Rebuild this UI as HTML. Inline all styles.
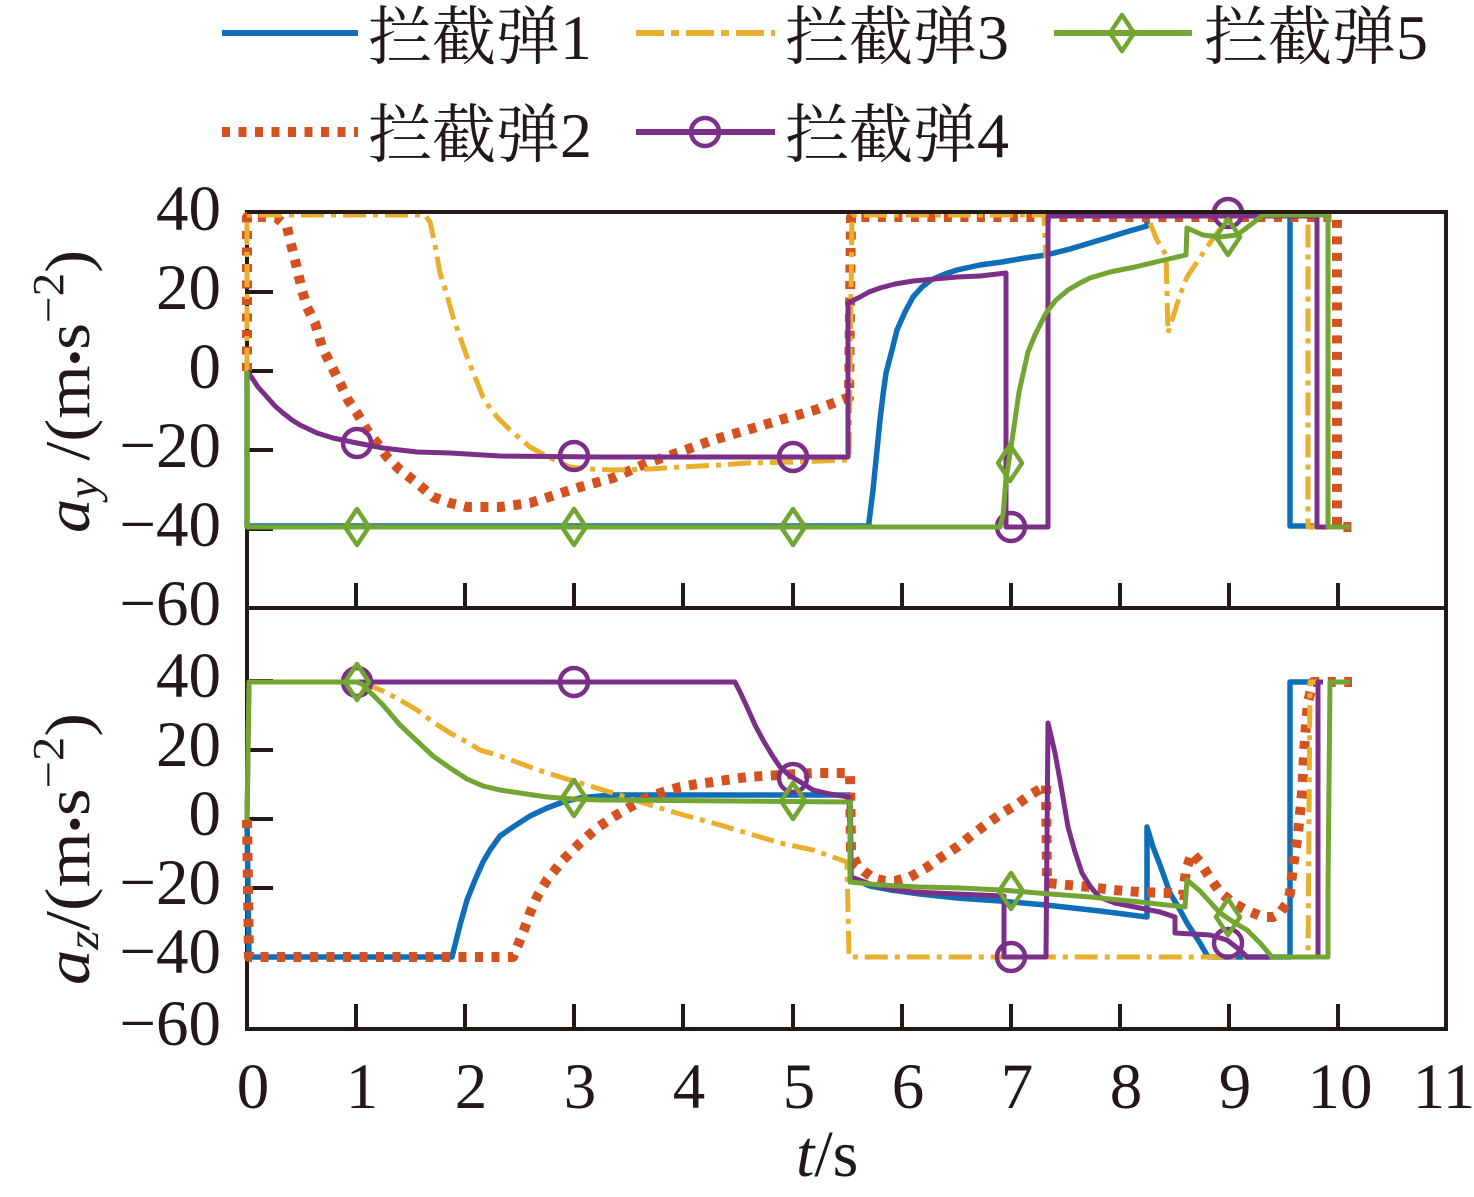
<!DOCTYPE html>
<html>
<head>
<meta charset="utf-8">
<style>
  html, body { margin: 0; padding: 0; background: #ffffff; }
  body { width: 1474px; height: 1197px; overflow: hidden; }
  svg { display: block; }
  text { font-family: "Liberation Serif", "Noto Serif CJK SC", serif; fill: #231815; }
  .lat { font-family: "Liberation Serif", serif; }
</style>
</head>
<body>
<svg width="1474" height="1197" viewBox="0 0 1474 1197" xmlns="http://www.w3.org/2000/svg">
  <rect x="0" y="0" width="1474" height="1197" fill="#ffffff"/>

  <!-- Legend -->
  <g fill="none" stroke-linejoin="round">
    <line x1="222" y1="33" x2="358" y2="33" stroke="#0e6eb8" stroke-width="6"/>
    <line x1="636" y1="33" x2="775" y2="33" stroke="#e9ae2c" stroke-width="6" stroke-dasharray="28 7 8 7"/>
    <line x1="1054" y1="33" x2="1192" y2="33" stroke="#73a533" stroke-width="6"/>
    <path d="M1122,15 L1134,33 L1122,51 L1110,33 Z" stroke="#73a533" stroke-width="4.5"/>
    <line x1="222" y1="132" x2="358" y2="132" stroke="#d35220" stroke-width="10" stroke-dasharray="8 8.5"/>
    <line x1="636" y1="132" x2="775" y2="132" stroke="#7b2f88" stroke-width="6"/>
    <circle cx="705" cy="132" r="14" stroke="#7b2f88" stroke-width="4.5"/>
  </g>
  <g font-size="64">
    <text x="368" y="59">拦截弹<tspan class="lat">1</tspan></text>
    <text x="785" y="59">拦截弹<tspan class="lat">3</tspan></text>
    <text x="1204" y="59">拦截弹<tspan class="lat">5</tspan></text>
    <text x="368" y="157">拦截弹<tspan class="lat">2</tspan></text>
    <text x="785" y="157">拦截弹<tspan class="lat">4</tspan></text>
  </g>

  <!-- Frames -->
  <g stroke="#231815" stroke-width="4" fill="none">
    <rect x="247" y="212" width="1199" height="817"/>
    <line x1="247" y1="608" x2="1446" y2="608"/>
    <line x1="249" y1="292" x2="273" y2="292"/>
    <line x1="249" y1="371" x2="273" y2="371"/>
    <line x1="249" y1="450" x2="273" y2="450"/>
    <line x1="249" y1="529" x2="273" y2="529"/>
    <line x1="249" y1="681" x2="273" y2="681"/>
    <line x1="249" y1="750" x2="273" y2="750"/>
    <line x1="249" y1="819" x2="273" y2="819"/>
    <line x1="249" y1="888" x2="273" y2="888"/>
    <line x1="249" y1="957" x2="273" y2="957"/>
    <path d="M356,608V583 M465,608V583 M574,608V583 M683,608V583 M793,608V583 M902,608V583 M1011,608V583 M1120,608V583 M1229,608V583 M1338,608V583"/>
    <path d="M356,1029V1004 M465,1029V1004 M574,1029V1004 M683,1029V1004 M793,1029V1004 M902,1029V1004 M1011,1029V1004 M1120,1029V1004 M1229,1029V1004 M1338,1029V1004"/>
  </g>

  <!-- TOP PANEL DATA -->
  <g fill="none" stroke-linejoin="round">
    <!-- 1 blue -->
    <polyline stroke="#0e6eb8" stroke-width="5.5" points="247,371 247,526 869,526 869,522 873,490 877,450 880,420 883,395 886,373 892,350 897,330 905,312 913,297 922,287 931,280 945,274 957,270 980,265 1002,262 1025,258 1046,255 1070,249 1090,243 1110,237 1126,232 1140,228 1147,226 1147,215 1290,215 1290,526 1314,526"/>
    <!-- 2 orange dotted -->
    <polyline stroke="#d35220" stroke-width="10" stroke-dasharray="8 8.5" points="247,371 247,217 263,217 277,218 287,227 290,240 295,260 302,290 307,307 315,323 322,347 330,363 340,383 348,400 357,413 367,430 377,443 387,457 400,470 417,483 433,497 450,503 467,507 500,507 530,503 580,487 613,478 647,463 680,452 713,440 747,430 780,420 815,410 847,398 849,398 851,217 1337,217 1337,527 1352,527"/>
    <!-- 3 yellow dash-dot (split: hidden under blue between) -->
    <polyline stroke="#e9ae2c" stroke-width="5" stroke-dasharray="23 7 5 7" points="247,371 247,215 425,215 430,222 435,245 440,273 447,295 453,317 460,337 467,357 475,377 483,397 490,408 497,417 510,430 530,447 550,458 570,467 590,469 613,470 650,469 680,467 720,465 747,463 793,462 849,460 852,215 1044,215 1046,258"/>
    <polyline stroke="#e9ae2c" stroke-width="5" stroke-dasharray="23 7 5 7" points="1150,223 1157,240 1166,255 1168,333 1172,320 1180,295 1187,277 1197,262 1207,247 1215,236 1222,226 1230,215 1308,215 1308,527 1320,527"/>
    <!-- 4 purple -->
    <polyline stroke="#7b2f88" stroke-width="5" points="247,371 250,375 258,387 267,397 275,406 283,413 292,420 300,425 317,433 333,438 357,443 383,448 417,452 450,453 500,456 600,457 848,457 848,303 860,297 869,292 880,288 895,284 913,281 935,279 957,277 980,276 1006,273 1006,527 1048,527 1048,216 1317,216 1317,527 1330,527"/>
    <g stroke="#7b2f88" stroke-width="4.5">
      <circle cx="357" cy="443" r="14"/>
      <circle cx="574" cy="456" r="14"/>
      <circle cx="793" cy="457" r="14"/>
      <circle cx="1011" cy="527" r="14"/>
      <circle cx="1228" cy="213" r="14"/>
    </g>
    <!-- 5 green -->
    <polyline stroke="#73a533" stroke-width="5" points="247,371 247,527 1000,527 1003,515 1006,480 1011,447 1015,420 1019,392 1024,370 1028,352 1035,335 1046,313 1056,300 1068,290 1080,283 1090,278 1110,272 1135,267 1160,261 1186,255 1187,228 1203,235 1220,237 1237,235 1253,223 1263,215 1328,215 1328,527 1350,527"/>
    <g stroke="#73a533" stroke-width="4.5">
      <path d="M357,509 L369,527 L357,545 L345,527 Z"/>
      <path d="M574,509 L586,527 L574,545 L562,527 Z"/>
      <path d="M793,509 L805,527 L793,545 L781,527 Z"/>
      <path d="M1010,445 L1022,463 L1010,481 L998,463 Z"/>
      <path d="M1228,219 L1240,237 L1228,255 L1216,237 Z"/>
    </g>
  </g>

  <!-- BOTTOM PANEL DATA -->
  <g fill="none" stroke-linejoin="round">
    <polyline stroke="#0e6eb8" stroke-width="5.5" points="247,820 249,957 452,957 455,945 460,925 467,900 475,880 483,862 490,850 500,836 513,827 530,816 547,808 563,802 580,798 600,796 613,795 850,795 851,877 860,882 870,886 891,890 920,894 957,898 1000,901 1046,905 1100,911 1147,917 1147,827 1153,847 1160,865 1170,893 1180,910 1187,923 1200,943 1208,957 1290,957 1290,682 1317,682"/>
    <polyline stroke="#d35220" stroke-width="10" stroke-dasharray="8 8.5" points="247,820 249,957 513,957 518,945 524,930 530,913 538,895 547,880 563,860 580,843 597,828 613,817 630,807 647,798 663,792 680,787 697,784 713,782 747,777 780,775 813,773 850,773 851,850 857,865 865,872 873,878 885,881 895,881 910,877 926,868 940,858 957,847 972,835 988,823 1004,812 1019,803 1030,795 1042,788 1046,785 1047,883 1068,885 1090,887 1113,890 1140,892 1170,893 1183,895 1186,870 1192,853 1200,862 1210,878 1220,892 1233,903 1246,910 1263,917 1273,917 1280,913 1287,903 1290,893 1293,867 1298,833 1302,793 1305,737 1308,702 1313,682 1352,682"/>
    <polyline stroke="#e9ae2c" stroke-width="5" stroke-dasharray="23 7 5 7" points="247,820 249,682 357,682 370,686 383,691 400,700 417,710 433,722 450,733 467,742 480,750 500,756 530,767 547,773 580,783 613,793 650,805 680,814 713,823 747,833 780,843 813,850 847,862 849,957 1308,957 1310,682 1320,682"/>
    <polyline stroke="#7b2f88" stroke-width="5" points="247,820 249,682 735,682 740,692 747,707 755,725 763,740 772,755 780,767 790,776 797,780 805,785 813,790 830,794 849,797 851,877 870,884 891,889 913,892 957,894 1004,896 1004,957 1046,957 1048,723 1052,740 1055,753 1060,780 1068,827 1075,852 1082,873 1090,886 1099,897 1115,903 1135,907 1160,912 1175,917 1175,933 1210,935 1227,940 1240,950 1247,957 1318,957 1318,682 1323,682"/>
    <g stroke="#7b2f88" stroke-width="4.5">
      <circle cx="357" cy="682" r="14"/>
      <circle cx="574" cy="682" r="14"/>
      <circle cx="793" cy="778" r="14"/>
      <circle cx="1011" cy="957" r="14"/>
      <circle cx="1228" cy="943" r="14"/>
    </g>
    <polyline stroke="#73a533" stroke-width="5" points="247,820 249,682 357,682 362,684 367,689 383,705 400,725 417,741 433,756 450,768 467,779 483,786 500,790 513,792 547,797 573,799 600,800 850,802 850,882 880,885 920,887 960,888 1002,890 1050,894 1090,897 1140,902 1185,907 1187,880 1200,891 1220,913 1235,923 1247,930 1260,943 1272,957 1328,957 1328,888 1330,682 1350,682"/>
    <g stroke="#73a533" stroke-width="4.5">
      <path d="M357,664 L369,682 L357,700 L345,682 Z"/>
      <path d="M574,780 L586,798 L574,816 L562,798 Z"/>
      <path d="M793,783 L805,801 L793,819 L781,801 Z"/>
      <path d="M1011,873 L1023,891 L1011,909 L999,891 Z"/>
      <path d="M1228,899 L1240,917 L1228,935 L1216,917 Z"/>
    </g>
  </g>

  <line x1="247" y1="212" x2="1446" y2="212" stroke="#231815" stroke-width="4"/>

  <g font-size="65" text-anchor="end">
    <text x="221" y="230">40</text>
    <text x="221" y="309">20</text>
    <text x="221" y="388">0</text>
    <text x="221" y="467">−20</text>
    <text x="221" y="546">−40</text>
    <text x="221" y="625">−60</text>
  </g>
  <g font-size="65" text-anchor="end">
    <text x="221" y="697">40</text>
    <text x="221" y="766">20</text>
    <text x="221" y="835">0</text>
    <text x="221" y="904">−20</text>
    <text x="221" y="973">−40</text>
    <text x="221" y="1045">−60</text>
  </g>
  <g font-size="65" text-anchor="middle">
    <text x="253" y="1108">0</text>
    <text x="362" y="1108">1</text>
    <text x="471" y="1108">2</text>
    <text x="580" y="1108">3</text>
    <text x="689" y="1108">4</text>
    <text x="799" y="1108">5</text>
    <text x="908" y="1108">6</text>
    <text x="1017" y="1108">7</text>
    <text x="1126" y="1108">8</text>
    <text x="1235" y="1108">9</text>
    <text x="1340" y="1108">10</text>
    <text x="1444" y="1108">11</text>
  </g>

  <text x="796" y="1176" font-size="66"><tspan font-style="italic">t</tspan>/s</text>

  <text transform="translate(89,533) rotate(-90)" font-size="64" textLength="283" lengthAdjust="spacingAndGlyphs"><tspan font-style="italic">a</tspan><tspan font-style="italic" font-size="44" dy="9">y</tspan><tspan dy="-9"> /(m</tspan><tspan font-size="42">•</tspan><tspan>s</tspan><tspan font-size="44" dy="-26">−2</tspan><tspan dy="26">)</tspan></text>
  <text transform="translate(89,985) rotate(-90)" font-size="64" textLength="272" lengthAdjust="spacingAndGlyphs"><tspan font-style="italic">a</tspan><tspan font-style="italic" font-size="44" dy="9">z</tspan><tspan dy="-9">/(m</tspan><tspan font-size="42">•</tspan><tspan>s</tspan><tspan font-size="44" dy="-26">−2</tspan><tspan dy="26">)</tspan></text>
</svg>
</body>
</html>
